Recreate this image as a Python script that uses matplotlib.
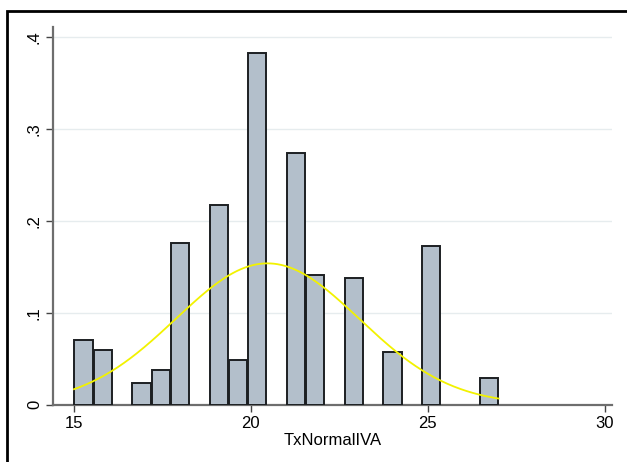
import numpy as np
import matplotlib
matplotlib.use("Agg")
import matplotlib.pyplot as plt
from matplotlib.patches import Rectangle

# Histogram of TxNormalIVA (density scale), 22 bins between 15 and 27
bin_start = 15.0
bin_stop = 27.0
n_bins = 22
densities = [0.0699, 0.0590, 0.0, 0.0238, 0.0379, 0.1756, 0.0, 0.2177,
             0.0488, 0.3832, 0.0, 0.2743, 0.1410, 0.0, 0.1373, 0.0,
             0.0567, 0.0, 0.1724, 0.0, 0.0, 0.0284]

# Normal density overlay
norm_mean = 20.47
norm_sd = 2.595

x_ticks = [15, 20, 25, 30]
x_ticklabels = ["15", "20", "25", "30"]
y_ticks = [0, 0.1, 0.2, 0.3, 0.4]
y_ticklabels = ["0", ".1", ".2", ".3", ".4"]
x_title = "TxNormalIVA"
fig_title = "Figure 1: Histogram"

W, H = 627, 462
fig = plt.figure(figsize=(W / 100, H / 100), dpi=100)
fig.patch.set_facecolor("white")

font = ["Liberation Sans", "DejaVu Sans"]

# plot region in pixels
left_px, right_px = 53, 612
top_px, bottom_px = 27, 404.5
ax = fig.add_axes([left_px / W, 1 - bottom_px / H,
                   (right_px - left_px) / W, (bottom_px - top_px) / H])

px_per_unit = 35.38
xmin = 15 - (74 - left_px) / px_per_unit
xmax = 15 + (right_px - 74) / px_per_unit
ax.set_xlim(xmin, xmax)
ax.set_ylim(0, 0.4112)

edges = np.linspace(bin_start, bin_stop, n_bins + 1)
width = edges[1] - edges[0]
centers = edges[:-1] + width / 2
heights = np.array(densities)
mask = heights > 0
ax.bar(centers[mask], heights[mask], width=width * 0.95, align="center",
       color="#b3bfcb", edgecolor="#1c1f22", linewidth=1.4, zorder=3)

xs = np.linspace(bin_start, bin_stop, 400)
ys = np.exp(-0.5 * ((xs - norm_mean) / norm_sd) ** 2) / (norm_sd * np.sqrt(2 * np.pi))
ax.plot(xs, ys, color="#f2f200", linewidth=1.3, zorder=4)

# horizontal grid
for yv in y_ticks[1:]:
    ax.axhline(yv, color="#e6ecee", linewidth=1.0, zorder=1)

for side in ("top", "right"):
    ax.spines[side].set_visible(False)
for side in ("left", "bottom"):
    ax.spines[side].set_color("#6e6e6e")
    ax.spines[side].set_linewidth(1.6)

ax.set_xticks(x_ticks)
ax.set_xticklabels(x_ticklabels, fontsize=12, family=font)
ax.set_yticks(y_ticks)
ax.set_yticklabels(y_ticklabels, fontsize=12, family=font,
                   rotation=90, va="center")
ax.tick_params(axis="both", direction="out", length=5, width=1.0,
               color="#444444", pad=3)
ax.set_xlabel(x_title, fontsize=12, family=font, labelpad=2)

# outer frame
frame = Rectangle((7 / W, 0 - 0.05), 1.2, (1 - 10.5 / H) + 0.05,
                  transform=fig.transFigure, fill=False,
                  edgecolor="black", linewidth=2.0, clip_on=False)
fig.patches.append(frame)

fig.text(12 / W, 1 + 6.5 / H, fig_title, fontsize=20, fontweight="bold",
         family=["Liberation Serif", "DejaVu Serif"], va="baseline",
         ha="left")

fig.savefig("out.png", dpi=100)
